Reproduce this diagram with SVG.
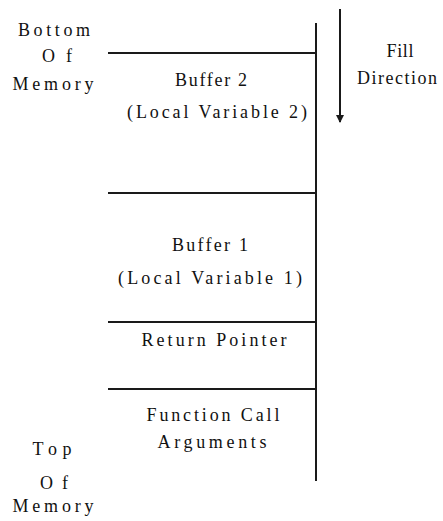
<svg xmlns="http://www.w3.org/2000/svg" width="443" height="521" viewBox="0 0 443 521">
  <style>
    .edge { stroke: #1a1a1a; stroke-width: 2; fill: none; }
    .lbl { font-family: "Liberation Serif", "Times New Roman", serif; font-size: 18px; fill: #111; text-anchor: middle; }
  </style>
  <defs>
    <marker id="arrowhead" markerWidth="8" markerHeight="8" refX="7" refY="4" orient="auto" markerUnits="userSpaceOnUse">
      <path d="M0,0 L8,4 L0,8 Z" fill="#1a1a1a"/>
    </marker>
  </defs>
  <rect width="443" height="521" fill="#ffffff"/>

  <!-- stack frame outline and fill-direction arrow -->
  <g id="connectors">
    <line class="edge" x1="316" y1="23" x2="316" y2="481"/>
    <line class="edge" x1="108" y1="53" x2="316" y2="53"/>
    <line class="edge" x1="108" y1="193" x2="316" y2="193"/>
    <line class="edge" x1="108" y1="322" x2="316" y2="322"/>
    <line class="edge" x1="108" y1="389" x2="316" y2="389"/>
    <line class="edge" x1="340" y1="9" x2="340" y2="122" marker-end="url(#arrowhead)"/>
  </g>

  <g id="bottom-of-memory">
    <text class="lbl" x="54" y="36" textLength="72" lengthAdjust="spacing">Bottom</text>
    <text class="lbl" x="57" y="62" textLength="30" lengthAdjust="spacing">Of</text>
    <text class="lbl" x="53" y="90" textLength="81" lengthAdjust="spacing">Memory</text>
  </g>

  <g id="fill-direction">
    <text class="lbl" x="400" y="57" textLength="27" lengthAdjust="spacing">Fill</text>
    <text class="lbl" x="397" y="84" textLength="80" lengthAdjust="spacing">Direction</text>
  </g>

  <g id="buffer-2">
    <text class="lbl" x="211" y="86" textLength="72" lengthAdjust="spacing">Buffer 2</text>
    <text class="lbl" x="217" y="118" textLength="180" lengthAdjust="spacing">(Local Variable 2)</text>
  </g>

  <g id="buffer-1">
    <text class="lbl" x="210" y="251" textLength="76" lengthAdjust="spacing">Buffer 1</text>
    <text class="lbl" x="210" y="284" textLength="184" lengthAdjust="spacing">(Local Variable 1)</text>
  </g>

  <g id="return-pointer">
    <text class="lbl" x="214" y="346" textLength="145" lengthAdjust="spacing">Return Pointer</text>
  </g>

  <g id="function-call-arguments">
    <text class="lbl" x="213" y="421" textLength="133" lengthAdjust="spacing">Function Call</text>
    <text class="lbl" x="212" y="448" textLength="109" lengthAdjust="spacing">Arguments</text>
  </g>

  <g id="top-of-memory">
    <text class="lbl" x="52" y="455" textLength="39" lengthAdjust="spacing">Top</text>
    <text class="lbl" x="54" y="489" textLength="28" lengthAdjust="spacing">Of</text>
    <text class="lbl" x="53" y="512" textLength="81" lengthAdjust="spacing">Memory</text>
  </g>
</svg>
